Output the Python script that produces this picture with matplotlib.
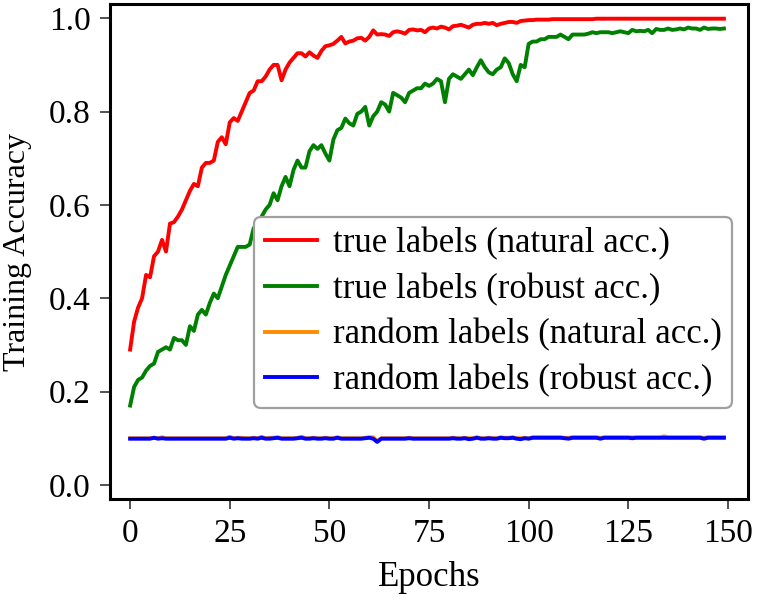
import matplotlib
matplotlib.use('Agg')
import matplotlib.pyplot as plt
import numpy as np

plt.rcParams['font.family'] = ['Liberation Serif', 'DejaVu Serif']

epochs = np.arange(150)

true_natural = [
    0.29, 0.35, 0.38, 0.40, 0.45, 0.445, 0.49, 0.50, 0.525, 0.50,
    0.56, 0.563, 0.575, 0.59, 0.61, 0.63, 0.645, 0.64, 0.68, 0.69,
    0.69, 0.695, 0.735, 0.745, 0.73, 0.777, 0.786, 0.78, 0.80, 0.82,
    0.84, 0.845, 0.865, 0.865, 0.875, 0.89, 0.90, 0.90, 0.867, 0.89,
    0.905, 0.915, 0.925, 0.925, 0.918, 0.927, 0.92, 0.915, 0.93, 0.94,
    0.942, 0.945, 0.952, 0.96, 0.946, 0.95, 0.952, 0.957, 0.958, 0.952,
    0.96, 0.974, 0.965, 0.966, 0.965, 0.962, 0.97, 0.972, 0.97, 0.967,
    0.975, 0.976, 0.974, 0.975, 0.97, 0.978, 0.98, 0.978, 0.982, 0.98,
    0.976, 0.983, 0.984, 0.986, 0.983, 0.98, 0.986, 0.988, 0.988, 0.99,
    0.988, 0.99, 0.985, 0.988, 0.99, 0.992, 0.992, 0.99, 0.994, 0.995,
    0.996, 0.996, 0.997, 0.997, 0.997, 0.997, 0.998, 0.998, 0.998, 0.998,
    0.998, 0.998, 0.998, 0.998, 0.998, 0.998, 0.998, 0.999, 0.999, 0.999,
    0.999, 0.999, 0.999, 0.999, 0.999, 0.999, 0.999, 0.999, 0.999, 0.999,
    0.999, 0.999, 0.999, 0.999, 0.999, 0.999, 0.999, 0.999, 0.999, 0.999,
    0.999, 0.999, 0.999, 0.999, 0.999, 0.999, 0.999, 0.999, 0.999, 0.999,
]

true_robust = [
    0.17, 0.21, 0.225, 0.23, 0.245, 0.255, 0.26, 0.285, 0.29, 0.295,
    0.29, 0.315, 0.31, 0.31, 0.30, 0.34, 0.33, 0.365, 0.375, 0.365,
    0.39, 0.41, 0.40, 0.425, 0.45, 0.47, 0.49, 0.51, 0.51, 0.51,
    0.515, 0.55, 0.56, 0.575, 0.59, 0.60, 0.625, 0.61, 0.64, 0.66,
    0.64, 0.675, 0.695, 0.68, 0.68, 0.715, 0.728, 0.72, 0.728, 0.71,
    0.695, 0.74, 0.76, 0.765, 0.785, 0.775, 0.77, 0.795, 0.80, 0.81,
    0.77, 0.79, 0.80, 0.82, 0.815, 0.80, 0.84, 0.835, 0.83, 0.82,
    0.84, 0.845, 0.85, 0.85, 0.86, 0.855, 0.86, 0.87, 0.865, 0.82,
    0.87, 0.88, 0.875, 0.87, 0.88, 0.89, 0.878, 0.895, 0.91, 0.895,
    0.884, 0.88, 0.89, 0.895, 0.914, 0.904, 0.88, 0.865, 0.90, 0.895,
    0.945, 0.95, 0.95, 0.955, 0.955, 0.96, 0.96, 0.96, 0.965, 0.96,
    0.955, 0.965, 0.965, 0.965, 0.965, 0.967, 0.97, 0.968, 0.97, 0.97,
    0.97, 0.968, 0.97, 0.972, 0.97, 0.968, 0.975, 0.972, 0.973, 0.972,
    0.975, 0.968, 0.977, 0.975, 0.975, 0.978, 0.975, 0.976, 0.978, 0.976,
    0.98, 0.978, 0.978, 0.975, 0.98, 0.977, 0.978, 0.978, 0.977, 0.978,
]

random_natural = [
    0.100, 0.100, 0.100, 0.100, 0.100, 0.100, 0.101, 0.100, 0.102, 0.100,
    0.100, 0.100, 0.100, 0.100, 0.100, 0.100, 0.100, 0.100, 0.100, 0.100,
    0.100, 0.100, 0.100, 0.100, 0.100, 0.103, 0.100, 0.101, 0.101, 0.100,
    0.100, 0.101, 0.100, 0.103, 0.100, 0.101, 0.101, 0.102, 0.100, 0.100,
    0.100, 0.100, 0.101, 0.103, 0.100, 0.100, 0.101, 0.100, 0.100, 0.101,
    0.100, 0.100, 0.102, 0.100, 0.100, 0.100, 0.100, 0.100, 0.100, 0.101,
    0.102, 0.102, 0.094, 0.100, 0.100, 0.100, 0.100, 0.100, 0.100, 0.100,
    0.101, 0.100, 0.100, 0.100, 0.100, 0.100, 0.100, 0.100, 0.100, 0.100,
    0.100, 0.101, 0.100, 0.100, 0.101, 0.100, 0.100, 0.102, 0.100, 0.100,
    0.101, 0.100, 0.100, 0.102, 0.101, 0.101, 0.102, 0.100, 0.100, 0.101,
    0.100, 0.102, 0.102, 0.102, 0.102, 0.102, 0.102, 0.102, 0.102, 0.101,
    0.101, 0.102, 0.102, 0.102, 0.102, 0.102, 0.102, 0.102, 0.101, 0.102,
    0.102, 0.102, 0.102, 0.102, 0.102, 0.102, 0.102, 0.102, 0.102, 0.102,
    0.102, 0.102, 0.102, 0.102, 0.104, 0.102, 0.102, 0.102, 0.102, 0.102,
    0.102, 0.102, 0.102, 0.102, 0.101, 0.102, 0.102, 0.102, 0.102, 0.102,
]

random_robust = [
    0.099, 0.099, 0.099, 0.099, 0.099, 0.099, 0.101, 0.099, 0.100, 0.099,
    0.099, 0.099, 0.099, 0.099, 0.099, 0.099, 0.099, 0.099, 0.099, 0.099,
    0.099, 0.099, 0.099, 0.099, 0.099, 0.101, 0.099, 0.100, 0.099, 0.099,
    0.099, 0.100, 0.099, 0.101, 0.099, 0.099, 0.100, 0.101, 0.099, 0.099,
    0.099, 0.099, 0.100, 0.101, 0.099, 0.099, 0.100, 0.099, 0.099, 0.100,
    0.099, 0.099, 0.101, 0.099, 0.099, 0.099, 0.099, 0.099, 0.099, 0.100,
    0.101, 0.099, 0.092, 0.099, 0.099, 0.099, 0.099, 0.099, 0.099, 0.099,
    0.100, 0.099, 0.099, 0.099, 0.099, 0.099, 0.099, 0.099, 0.099, 0.099,
    0.099, 0.100, 0.099, 0.099, 0.100, 0.098, 0.099, 0.101, 0.099, 0.099,
    0.100, 0.099, 0.099, 0.101, 0.100, 0.100, 0.101, 0.099, 0.098, 0.100,
    0.099, 0.101, 0.101, 0.101, 0.101, 0.101, 0.101, 0.101, 0.101, 0.100,
    0.099, 0.101, 0.101, 0.101, 0.101, 0.101, 0.101, 0.101, 0.099, 0.101,
    0.101, 0.101, 0.101, 0.101, 0.101, 0.101, 0.100, 0.101, 0.101, 0.101,
    0.101, 0.101, 0.101, 0.101, 0.101, 0.101, 0.101, 0.101, 0.101, 0.101,
    0.101, 0.101, 0.101, 0.101, 0.099, 0.101, 0.101, 0.101, 0.101, 0.101,
]

fig = plt.figure(figsize=(7.6, 6.04), dpi=100)
ax = fig.add_axes([0.145, 0.174, 0.839, 0.819])

ax.plot(epochs, true_natural, color='#ff0000', lw=2.8, label='true labels (natural acc.)')
ax.plot(epochs, true_robust, color='#008000', lw=2.8, label='true labels (robust acc.)')
ax.plot(epochs, random_natural, color='#ff8c00', lw=2.8, label='random labels (natural acc.)')
ax.plot(epochs, random_robust, color='#0000ff', lw=2.8, label='random labels (robust acc.)')

ax.set_xlim(-5, 155)
ax.set_ylim(-0.03, 1.03)
ax.set_xticks([0, 25, 50, 75, 100, 125, 150])
ax.set_yticks([0.0, 0.2, 0.4, 0.6, 0.8, 1.0])
ax.set_yticklabels(['0.0', '0.2', '0.4', '0.6', '0.8', '1.0'])

for s in ax.spines.values():
    s.set_linewidth(2.2)
ax.tick_params(direction='out', length=7, width=1.2, color='#333333',
               labelsize=24, pad=7)

ax.set_xlabel('Epochs', fontsize=25, labelpad=9)
ax.set_ylabel('Training Accuracy', fontsize=23, labelpad=12)

leg = ax.legend(loc='lower right', bbox_to_anchor=(0.975, 0.184), fontsize=25,
                handlelength=1.5, handletextpad=0.46, borderpad=0.3,
                labelspacing=0.36, borderaxespad=0.0,
                fancybox=True, framealpha=1.0)
leg.get_frame().set_edgecolor('#a0a0a0')
leg.get_frame().set_linewidth(1.6)

fig.savefig('out.png', dpi=100)
